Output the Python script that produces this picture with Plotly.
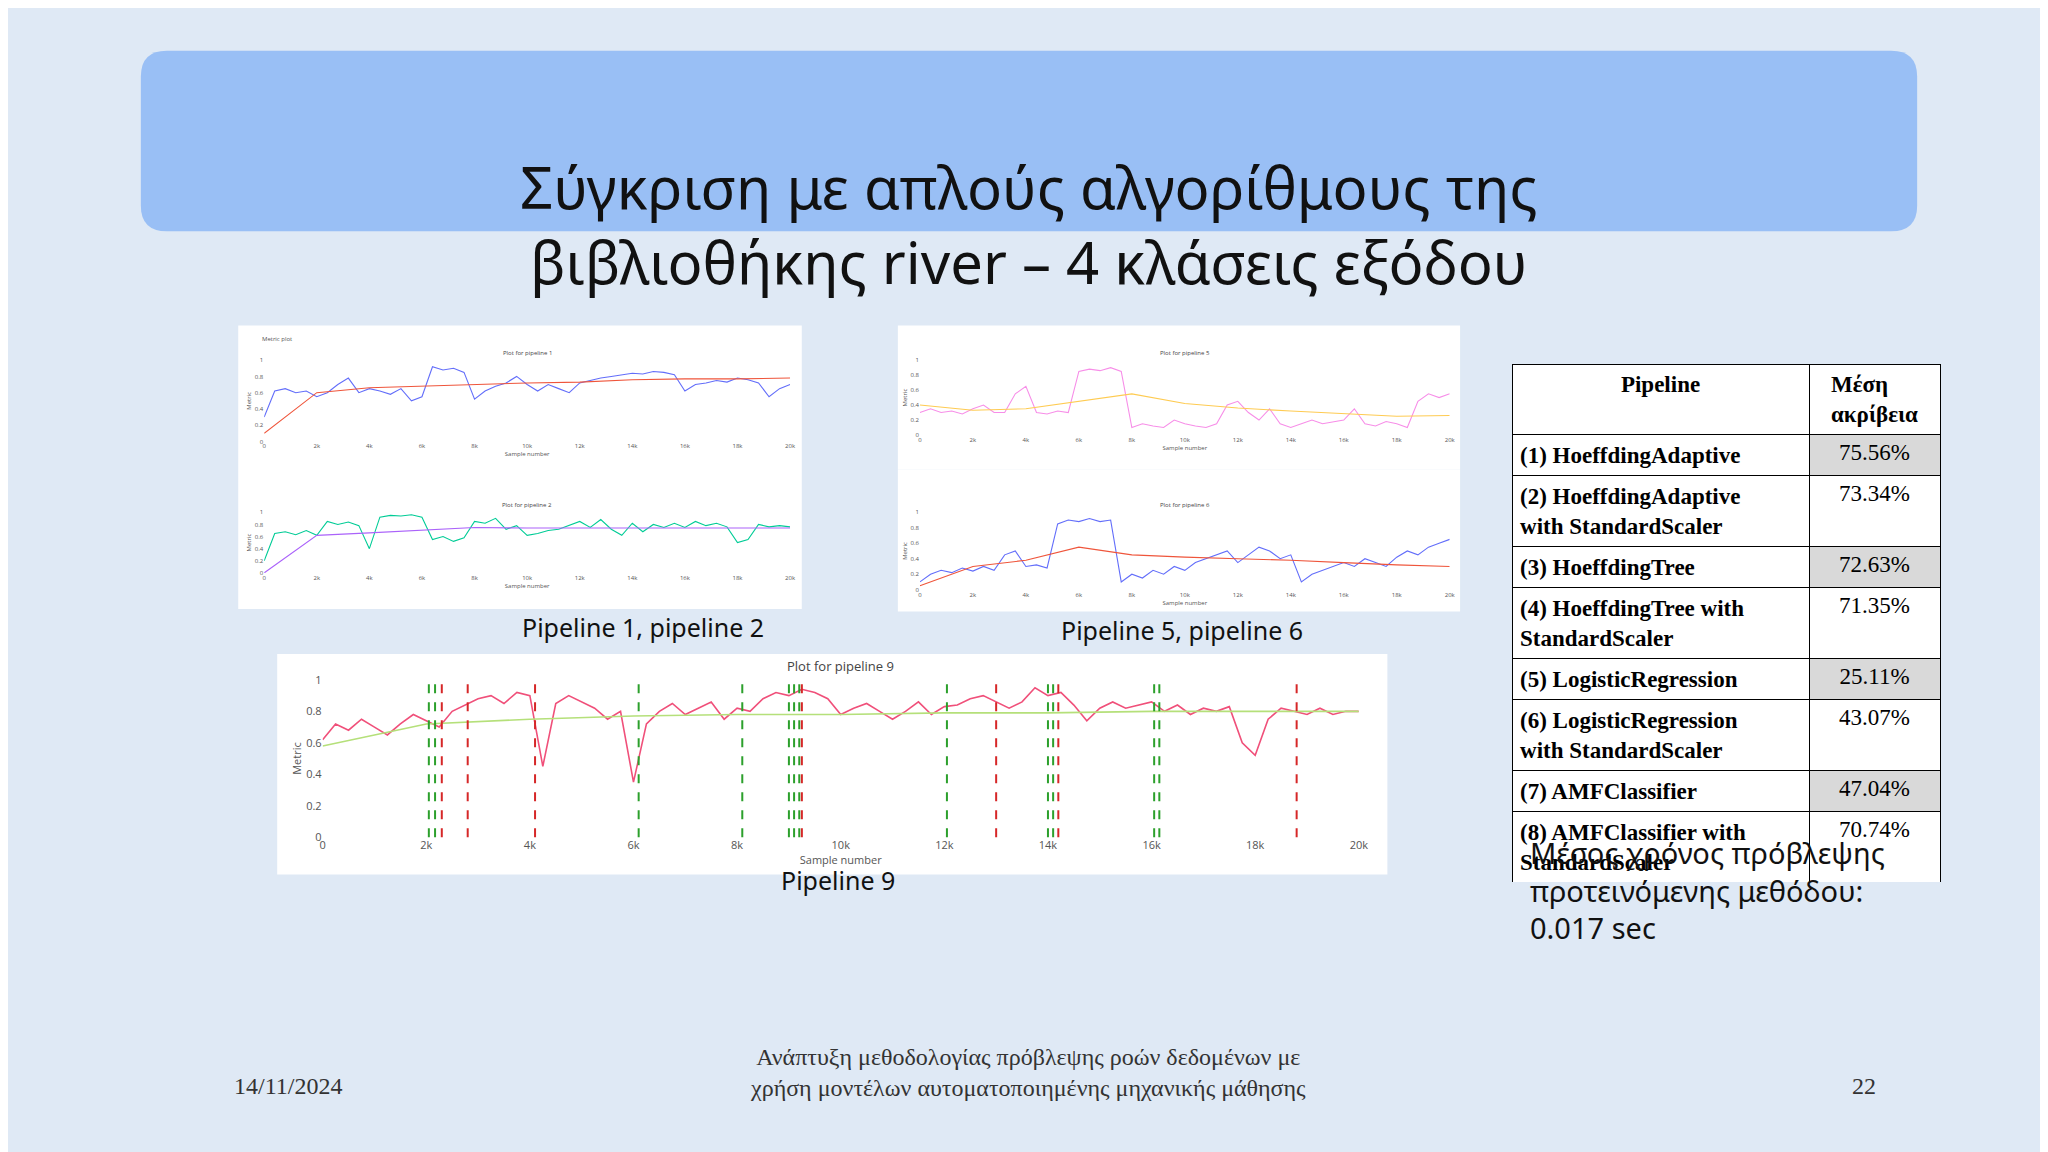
import plotly.graph_objects as go

W, H = 1568, 882  # layout sketched in these units, scaled to 2048x1152

# ---- data ----
x_fine = list(range(0, 20001, 400))
x_avg = list(range(0, 20001, 2000))

p1 = [0.3, 0.62, 0.65, 0.6, 0.62, 0.55, 0.6, 0.7, 0.78, 0.6, 0.65, 0.62, 0.58, 0.65, 0.5, 0.55,
      0.92, 0.88, 0.9, 0.85, 0.52, 0.62, 0.68, 0.72, 0.8, 0.7, 0.62, 0.7, 0.65, 0.6, 0.72, 0.75,
      0.78, 0.8, 0.82, 0.84, 0.83, 0.86, 0.85, 0.82, 0.62, 0.7, 0.72, 0.75, 0.73, 0.78, 0.76,
      0.72, 0.55, 0.65, 0.7]
p1_avg = [0.1, 0.6, 0.66, 0.68, 0.7, 0.72, 0.73, 0.76, 0.77, 0.77, 0.78]

p2 = [0.2, 0.65, 0.68, 0.63, 0.7, 0.62, 0.85, 0.8, 0.84, 0.78, 0.4, 0.92, 0.95, 0.94, 0.96, 0.92,
      0.55, 0.6, 0.52, 0.58, 0.85, 0.82, 0.9, 0.72, 0.78, 0.62, 0.65, 0.7, 0.72, 0.78, 0.85, 0.75,
      0.88, 0.72, 0.62, 0.82, 0.68, 0.8, 0.75, 0.82, 0.75, 0.85, 0.78, 0.82, 0.76, 0.5, 0.55,
      0.8, 0.76, 0.78, 0.76]
p2_avg = [0.0, 0.62, 0.66, 0.71, 0.75, 0.74, 0.74, 0.74, 0.74, 0.74, 0.74]

p5 = [0.3, 0.35, 0.3, 0.32, 0.28, 0.35, 0.4, 0.3, 0.3, 0.55, 0.65, 0.3, 0.28, 0.32, 0.3, 0.85,
      0.88, 0.86, 0.9, 0.85, 0.1, 0.15, 0.12, 0.1, 0.2, 0.15, 0.12, 0.1, 0.15, 0.4, 0.45, 0.3,
      0.2, 0.35, 0.15, 0.1, 0.15, 0.2, 0.15, 0.18, 0.2, 0.35, 0.15, 0.12, 0.18, 0.15, 0.1,
      0.45, 0.55, 0.5, 0.55]
p5_avg = [0.4, 0.33, 0.35, 0.45, 0.55, 0.42, 0.36, 0.32, 0.28, 0.25, 0.26]

p6 = [0.1, 0.2, 0.25, 0.22, 0.28, 0.24, 0.3, 0.25, 0.45, 0.5, 0.3, 0.32, 0.28, 0.85, 0.9, 0.88,
      0.92, 0.88, 0.9, 0.1, 0.2, 0.15, 0.25, 0.2, 0.3, 0.25, 0.35, 0.4, 0.45, 0.5, 0.35, 0.45,
      0.55, 0.5, 0.4, 0.45, 0.1, 0.2, 0.25, 0.3, 0.35, 0.3, 0.4, 0.35, 0.3, 0.42, 0.5, 0.45,
      0.55, 0.6, 0.65]
p6_avg = [0.05, 0.3, 0.38, 0.55, 0.45, 0.42, 0.4, 0.38, 0.35, 0.32, 0.3]

x9 = list(range(0, 20001, 250))
p9 = [0.62, 0.72, 0.68, 0.75, 0.7, 0.65, 0.72, 0.78, 0.74, 0.7, 0.8, 0.84, 0.88, 0.9, 0.85, 0.92,
      0.9, 0.45, 0.85, 0.9, 0.86, 0.82, 0.75, 0.8, 0.35, 0.72, 0.8, 0.85, 0.78, 0.82, 0.86, 0.75,
      0.82, 0.8, 0.88, 0.92, 0.9, 0.94, 0.92, 0.88, 0.78, 0.82, 0.85, 0.8, 0.75, 0.8, 0.86, 0.78,
      0.83, 0.84, 0.88, 0.9, 0.86, 0.82, 0.86, 0.95, 0.9, 0.92, 0.84, 0.74, 0.82, 0.86, 0.82,
      0.84, 0.86, 0.8, 0.84, 0.78, 0.82, 0.8, 0.83, 0.6, 0.52, 0.75, 0.82, 0.8, 0.78, 0.82,
      0.78, 0.8, 0.8]
p9_avg = [0.58, 0.72, 0.75, 0.77, 0.78, 0.78, 0.79, 0.79, 0.8, 0.8, 0.8]
green_lines = [2050, 2170, 6100, 8100, 9000, 9100, 9200, 12050, 14000, 14100, 16050, 16150]
red_lines = [2300, 2800, 4100, 9250, 13000, 14200, 18800]

pipelines = ["(1) HoeffdingAdaptive", "(2) HoeffdingAdaptive<br>with StandardScaler",
             "(3) HoeffdingTree", "(4) HoeffdingTree with<br>StandardScaler",
             "(5) LogisticRegression", "(6) LogisticRegression<br>with StandardScaler",
             "(7) AMFClassifier", "(8) AMFClassifier with<br>StandardScaler",
             "(9) προτεινόμενη<br>AutoML μέθοδος"]
accuracy = ["75.56%", "73.34%", "72.63%", "71.35%", "25.11%", "43.07%", "47.04%", "70.74%",
            "<b>79.48%</b>"]

# ---- layout helpers ----
def px_(x):
    return x / W

def py_(y):
    return 1 - y / H

fig = go.Figure()
shapes = []
annotations = []
small = dict(size=6, color="#555")

panels = [
    # (series list, box, plot area, title)
    ([(p1, x_fine, "#636efa"), (p1_avg, x_avg, "#ef553b")], (175, 240, 609, 353), (195, 267, 600, 330), "Plot for pipeline 1"),
    ([(p2, x_fine, "#00cc96"), (p2_avg, x_avg, "#ab63fa")], (175, 353, 609, 460), (195, 385, 600, 432), "Plot for pipeline 2"),
    ([(p5, x_fine, "#f78ee8"), (p5_avg, x_avg, "#fecb52")], (683, 240, 1116, 352), (700, 267, 1108, 325), "Plot for pipeline 5"),
    ([(p6, x_fine, "#636efa"), (p6_avg, x_avg, "#ef553b")], (683, 352, 1116, 462), (700, 385, 1108, 445), "Plot for pipeline 6"),
    ([(p9, x9, "#f0507a"), (p9_avg, x_avg, "#b5e07a")], (205, 495, 1060, 666), (240, 515, 1038, 637), "Plot for pipeline 9"),
]

for i, (series, box, area, title) in enumerate(panels, start=1):
    big = i == 5
    shapes.append(dict(type="rect", xref="paper", yref="paper", x0=px_(box[0]), x1=px_(box[2]),
                       y0=py_(box[3]), y1=py_(box[1]), fillcolor="white", line_width=0, layer="below"))
    sfx = "" if i == 1 else str(i)
    xa, ya = "x" + sfx, "y" + sfx
    for vals, xs, col in series:
        fig.add_trace(go.Scatter(x=xs, y=vals, xaxis=xa, yaxis=ya, mode="lines",
                                 line=dict(color=col, width=1.6 if big else 1.1), showlegend=False))
    tickfont = dict(size=11 if big else 6, color="#555")
    fig.update_layout(**{
        "xaxis" + sfx: dict(domain=[px_(area[0]), px_(area[2])], anchor=ya, range=[0, 20000],
                            dtick=2000, tickformat="~s", tickfont=tickfont, gridcolor="white",
                            showline=False, zeroline=False,
                            title=dict(text="Sample number", font=tickfont, standoff=2)),
        "yaxis" + sfx: dict(domain=[py_(area[3]), py_(area[1])], anchor=xa, range=[0, 1],
                            dtick=0.2, tickfont=tickfont, gridcolor="white", zeroline=False,
                            title=dict(text="Metric", font=tickfont, standoff=2)),
    })
    annotations.append(dict(text=title, xref="%s domain" % xa, yref="%s domain" % ya, x=0.5, y=1.02,
                            yanchor="bottom", showarrow=False,
                            font=dict(size=13 if big else 6, color="#444")))

annotations.append(dict(text="Metric plot", xref="paper", yref="paper", x=px_(192), y=py_(246),
                        xanchor="left", showarrow=False, font=small))

for xv in green_lines:
    shapes.append(dict(type="line", xref="x5", yref="y5 domain", x0=xv, x1=xv, y0=0, y1=1,
                       line=dict(color="#2ca02c", width=2, dash="dash")))
for xv in red_lines:
    shapes.append(dict(type="line", xref="x5", yref="y5 domain", x0=xv, x1=xv, y0=0, y1=1,
                       line=dict(color="#d62728", width=2, dash="dash")))

# title bar
shapes.insert(0, dict(type="path", xref="paper", yref="paper", layer="below",
                      path="M %f %f L %f %f Q %f %f %f %f L %f %f Q %f %f %f %f L %f %f Q %f %f %f %f L %f %f Q %f %f %f %f Z" % (
                          px_(120), py_(27), px_(1448), py_(27), px_(1468), py_(27), px_(1468), py_(47),
                          px_(1468), py_(147), px_(1468), py_(167), px_(1448), py_(167),
                          px_(120), py_(167), px_(100), py_(167), px_(100), py_(147),
                          px_(100), py_(47), px_(100), py_(27), px_(120), py_(27)),
                      fillcolor="#99bff5", line_width=0))

sans = "Noto Sans"
slide_text = [
    dict(text="Σύγκριση με απλούς αλγορίθμους της<br>βιβλιοθήκης river – 4 κλάσεις εξόδου",
         x=px_(784), y=py_(100), font=dict(family=sans, size=58, color="#111")),
    dict(text="Pipeline 1, pipeline 2", x=px_(392), y=py_(474), font=dict(family=sans, size=25, color="#111")),
    dict(text="Pipeline 5, pipeline 6", x=px_(902), y=py_(476), font=dict(family=sans, size=25, color="#111")),
    dict(text="Pipeline 9", x=px_(637), y=py_(685), font=dict(family=sans, size=25, color="#111")),
    dict(text="Μέσος χρόνος πρόβλεψης<br>προτεινόμενης μεθόδου:<br>0.017 sec", x=px_(1168), y=py_(724),
         xanchor="left", align="left", font=dict(family=sans, size=29, color="#111")),
    dict(text="14/11/2024", x=px_(170), y=py_(842), font=dict(family="Liberation Serif", size=24, color="#333")),
    dict(text="Ανάπτυξη μεθοδολογίας πρόβλεψης ροών δεδομένων με<br>χρήση μοντέλων αυτοματοποιημένης μηχανικής μάθησης",
         x=px_(783), y=py_(843), font=dict(family="Liberation Serif", size=24, color="#333")),
    dict(text="22", x=px_(1438), y=py_(842), font=dict(family="Liberation Serif", size=24, color="#333")),
]
for a in slide_text:
    a.update(xref="paper", yref="paper", showarrow=False)
annotations += slide_text

fig.add_trace(go.Table(
    domain=dict(x=[px_(1156), px_(1486)], y=[py_(672), py_(270)]),
    columnwidth=[229, 101],
    header=dict(values=["<b>Pipeline</b>", "<b>Μέση<br>ακρίβεια</b>"], align="center",
                fill_color="white", line_color="black", height=64,
                font=dict(family="Liberation Serif", size=23, color="black")),
    cells=dict(values=[["<b>%s</b>" % p for p in pipelines], accuracy], align=["left", "center"],
               fill_color=[["white"] * 9, ["#d9d9d9", "white"] * 4 + ["#d9d9d9"]],
               line_color="black", height=32,
               font=dict(family="Liberation Serif", size=23, color="black")),
))

fig.update_layout(width=2048, height=1152, margin=dict(l=0, r=0, t=0, b=0),
                  paper_bgcolor="#dfe9f5", plot_bgcolor="#e5ecf6",
                  shapes=shapes, annotations=annotations)
fig.write_html("out.html")
